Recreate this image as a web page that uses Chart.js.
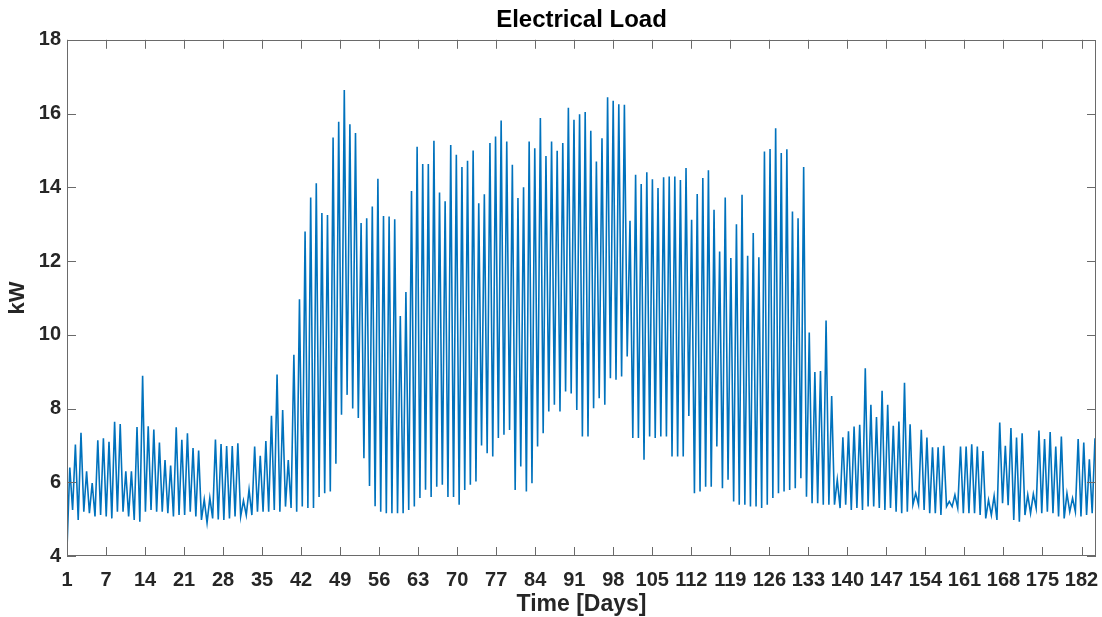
<!DOCTYPE html>
<html>
<head>
<meta charset="utf-8">
<script src="https://cdn.jsdelivr.net/npm/chart.js@4"></script>
<style>
  html, body { margin: 0; padding: 0; background: #fff; }
  canvas { display: block; }
</style>
</head>
<body>
<canvas id="grafica" width="1102" height="617"></canvas>
<script>
// daily load peaks (kW), one per day
var peaks = [
    6.4, 7.02, 7.34, 6.3, 5.98, 7.14, 7.19, 7.1, 7.64, 7.58,
    6.3, 6.3, 7.5, 8.89, 7.52, 7.43, 7.08, 6.6, 6.45, 7.49,
    7.15, 7.33, 6.93, 6.86, 5.53, 5.58, 7.16, 7.04, 6.98, 6.98,
    7.06, 5.5, 5.8, 6.97, 6.72, 7.12, 7.8, 8.92, 7.96, 6.6,
    9.46, 10.96, 12.8, 13.72, 14.11, 13.3, 13.25, 15.35, 15.78, 16.64,
    15.71, 15.47, 13.03, 13.16, 13.48, 14.23, 13.22, 13.21, 13.13, 10.51,
    11.16, 13.9, 15.1, 14.63, 14.63, 15.26, 13.86, 13.62, 15.15, 14.88,
    14.55, 14.72, 15.0, 13.57, 13.81, 15.2, 15.38, 15.81, 15.24, 14.61,
    13.71, 14.0, 15.24, 15.06, 15.88, 14.85, 15.24, 14.99, 15.2, 16.16,
    15.83, 15.98, 16.04, 15.53, 14.7, 15.33, 16.44, 16.35, 16.25, 16.24,
    13.09, 14.34, 14.09, 14.41, 14.22, 13.98, 14.27, 14.29, 14.29, 14.2,
    14.52, 13.12, 13.82, 14.25, 14.46, 13.39, 12.26, 13.72, 12.08, 13.0,
    13.8, 12.14, 12.76, 12.1, 14.97, 15.04, 15.6, 14.93, 15.03, 13.34,
    13.16, 14.55, 10.06, 8.99, 9.02, 10.39, 8.34, 6.07, 7.22, 7.38,
    7.51, 7.56, 9.09, 8.1, 7.77, 8.48, 8.1, 7.53, 7.65, 8.7,
    7.57, 5.7, 7.42, 7.21, 6.95, 6.95, 6.99, 5.48, 5.66, 6.97,
    6.97, 7.03, 6.97, 6.85, 5.52, 5.63, 7.62, 6.99, 7.47, 7.21,
    7.33, 5.66, 5.68, 7.4, 7.17, 7.36, 6.97, 7.24, 5.7, 5.57,
    7.17, 7.08, 6.62, 7.19
];

// night-time minimum before each peak (kW), plus the last point
var troughs = [
    4.2, 5.25, 4.98, 5.2, 5.16, 5.07, 5.11, 5.07, 5.02, 5.2,
    5.2, 5.07, 4.98, 4.93, 5.2, 5.25, 5.2, 5.2, 5.16, 5.07,
    5.11, 5.11, 5.2, 5.07, 4.98, 4.9, 5.02, 4.99, 4.98, 5.02,
    5.07, 5.07, 5.11, 5.11, 5.2, 5.2, 5.2, 5.25, 5.2, 5.34,
    5.3, 5.2, 5.34, 5.3, 5.3, 5.6, 5.7, 5.75, 6.5, 7.83,
    8.37, 8.0, 7.74, 6.65, 5.9, 5.35, 5.2, 5.16, 5.16, 5.16,
    5.16, 5.25, 5.34, 5.57, 5.8, 5.6, 5.88, 5.93, 5.6, 5.6,
    5.39, 5.79, 5.93, 6.02, 7.0, 6.79, 6.7, 7.2, 7.29, 7.42,
    5.79, 6.43, 5.75, 5.97, 6.97, 7.33, 7.92, 8.1, 7.92, 8.46,
    8.41, 7.96, 7.24, 7.24, 8.01, 8.28, 8.1, 8.82, 8.78, 8.87,
    9.41, 7.2, 7.2, 6.61, 7.24, 7.2, 7.24, 7.24, 6.7, 6.7,
    6.7, 7.8, 5.7, 5.75, 5.88, 5.88, 6.97, 5.84, 6.07, 5.48,
    5.39, 5.39, 5.34, 5.34, 5.3, 5.39, 5.57, 5.7, 5.75, 5.79,
    5.84, 6.11, 5.61, 5.43, 5.43, 5.39, 5.39, 5.39, 5.3, 5.39,
    5.25, 5.3, 5.25, 5.34, 5.34, 5.3, 5.25, 5.3, 5.2, 5.16,
    5.2, 5.39, 5.39, 5.25, 5.16, 5.16, 5.11, 5.34, 5.34, 5.3,
    5.16, 5.16, 5.16, 5.11, 5.02, 5.11, 4.98, 5.43, 5.38, 4.98,
    4.93, 5.11, 5.16, 5.3, 5.16, 5.2, 5.16, 5.07, 5.02, 5.2,
    5.2, 5.07, 5.11, 5.16, 5.25
];

var cycle = 1.005;      // days between two peaks on the time axis
var peakOffset = 0.5;   // peak comes half a cycle after the minimum

var tickPos = [0, 7, 14, 21, 28, 35, 42, 49, 56, 63, 70, 77, 84, 91, 98, 105, 112, 119, 126, 133, 140, 147, 154, 161, 168, 175, 182];
var tickLabels = ['1', '7', '14', '21', '28', '35', '42', '49', '56', '63', '70', '77', '84', '91', '98', '105', '112', '119', '126', '133', '140', '147', '154', '161', '168', '175', '182'];
var yTicks = [4, 6, 8, 10, 12, 14, 16, 18];

var load = [];
for (var k = 0; k < troughs.length; k++) {
    load.push({ x: k * cycle, y: troughs[k] });
    if (k < peaks.length) load.push({ x: k * cycle + peakOffset, y: peaks[k] });
}

var axisColor = '#262626';
var fontFam = '"Liberation Sans", Arial, Helvetica, sans-serif';

// matlab style box with ticks pointing inwards
var cajaEjes = {
    id: 'cajaEjes',
    afterDatasetsDraw: function (chart) {
        var ctx = chart.ctx, a = chart.chartArea;
        var sx = chart.scales.x, sy = chart.scales.y;
        var len = 9;
        ctx.save();
        ctx.strokeStyle = '#6a6a6a';
        ctx.lineWidth = 1;
        ctx.strokeRect(Math.round(a.left) + 0.5, Math.round(a.top) + 0.5, Math.round(a.width) - 1, Math.round(a.height) - 1);
        ctx.beginPath();
        sx.ticks.forEach(function (t) {
            var px = Math.round(sx.getPixelForValue(t.value)) + 0.5;
            ctx.moveTo(px, a.bottom); ctx.lineTo(px, a.bottom - len);
            ctx.moveTo(px, a.top); ctx.lineTo(px, a.top + len);
        });
        sy.ticks.forEach(function (t) {
            var py = Math.round(sy.getPixelForValue(t.value)) + 0.5;
            ctx.moveTo(a.left, py); ctx.lineTo(a.left + len, py);
            ctx.moveTo(a.right, py); ctx.lineTo(a.right - len, py);
        });
        ctx.stroke();
        ctx.restore();
    }
};

var gx = document.getElementById('grafica').getContext('2d');
var grafica = new Chart(gx, {
    type: 'line',
    data: {
        datasets: [{
            label: 'Electrical Load',
            data: load,
            borderColor: '#0072BD',
            borderWidth: 1.6,
            pointRadius: 0,
            tension: 0,
            fill: false
        }]
    },
    options: {
        responsive: false,
        animation: false,
        devicePixelRatio: 1,
        layout: { padding: { left: 0, right: 6, top: 0, bottom: 0 } },
        plugins: {
            legend: { display: false },
            tooltip: { enabled: false },
            title: {
                display: true,
                text: 'Electrical Load',
                fullSize: false,
                color: '#000',
                font: { family: fontFam, size: 24, weight: 'bold' },
                padding: { top: 6, bottom: 5 }
            }
        },
        scales: {
            x: {
                type: 'linear',
                min: 0,
                max: 184.6,
                afterBuildTicks: function (scale) {
                    scale.ticks = tickPos.map(function (v) { return { value: v }; });
                },
                afterFit: function (scale) {
                    scale.height = 61;
                    scale.paddingLeft = 0;
                    scale.paddingRight = 0;
                },
                grid: { display: false, drawTicks: false },
                border: { display: false },
                ticks: {
                    autoSkip: false,
                    maxRotation: 0,
                    padding: 12,
                    color: axisColor,
                    font: { family: fontFam, size: 20, weight: 'bold' },
                    callback: function (value) {
                        var i = tickPos.indexOf(value);
                        return i >= 0 ? tickLabels[i] : '';
                    }
                },
                title: {
                    display: true,
                    text: 'Time [Days]',
                    color: axisColor,
                    font: { family: fontFam, size: 23, weight: 'bold' },
                    padding: { top: 0, bottom: -1 }
                }
            },
            y: {
                min: 4,
                max: 18,
                afterBuildTicks: function (scale) {
                    scale.ticks = yTicks.map(function (v) { return { value: v }; });
                },
                afterFit: function (scale) {
                    scale.width = 67;
                    scale.paddingTop = 0;
                    scale.paddingBottom = 0;
                },
                grid: { display: false, drawTicks: false },
                border: { display: false },
                ticks: {
                    padding: 6,
                    color: axisColor,
                    font: { family: fontFam, size: 20, weight: 'bold' }
                },
                title: {
                    display: true,
                    text: 'kW',
                    color: axisColor,
                    font: { family: fontFam, size: 22, weight: 'bold' },
                    padding: { top: 5, bottom: 0 }
                }
            }
        }
    },
    plugins: [cajaEjes]
});
</script>
</body>
</html>
